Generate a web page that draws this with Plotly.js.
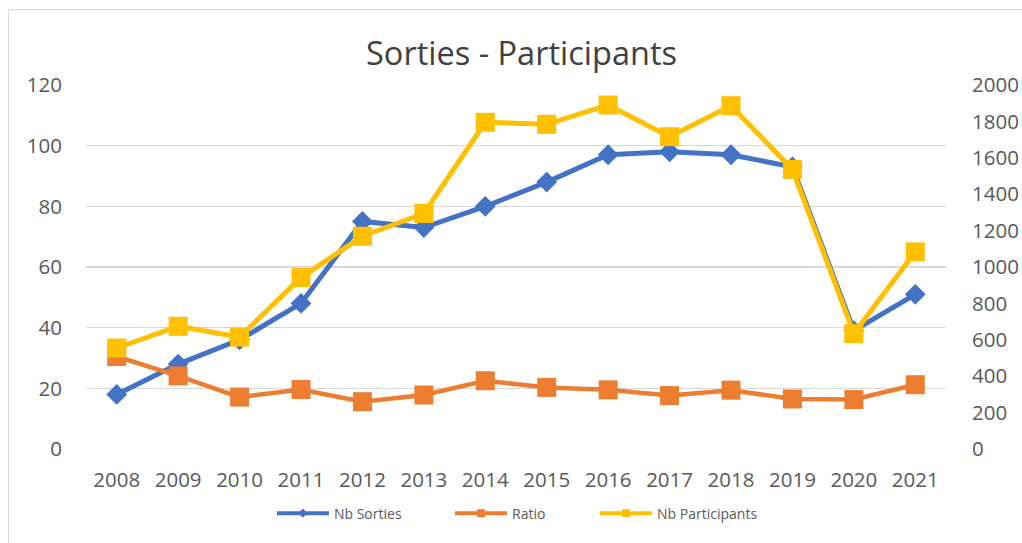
<!DOCTYPE html>
<html>
<head>
<meta charset="utf-8">
<script src="https://cdn.plot.ly/plotly-3.0.1.min.js"></script>
<style>
html,body{margin:0;padding:0;background:#fff;}
#wrap{position:relative;width:1022px;height:543px;overflow:hidden;}
#chart{position:absolute;left:0;top:0;width:1022px;height:543px;}
#frame{position:absolute;left:8px;top:9px;width:1040px;height:560px;border:1px solid #D9D9D9;pointer-events:none;z-index:5;}
</style>
</head>
<body>
<div id="wrap"><div id="chart"></div><div id="frame"></div></div>
<script>
const years = ['2008','2009','2010','2011','2012','2013','2014','2015','2016','2017','2018','2019','2020','2021'];
const nbSorties = [18, 28, 36, 48, 75, 73, 80, 88, 97, 98, 97, 93, 39, 51];
const ratio = [30.5, 24.1, 17.1, 19.6, 15.6, 17.8, 22.5, 20.3, 19.5, 17.6, 19.4, 16.5, 16.3, 21.2];
const nbParticipants = [555, 674, 615, 942, 1169, 1294, 1795, 1784, 1890, 1716, 1886, 1536, 634, 1083];
const leftTicks = [0, 20, 40, 60, 80, 100, 120];
const rightTicks = [0, 200, 400, 600, 800, 1000, 1200, 1400, 1600, 1800, 2000];

const FONT = 'Open Sans, sans-serif';
const TICK = {family: FONT, size: 20.5, color: '#595959'};
const BLUE = '#4472C4', ORANGE = '#ED7D31', YELLOW = '#FFC000';

const traces = [
  {x: years, y: nbSorties, name: 'Nb Sorties', type: 'scatter', mode: 'lines+markers', showlegend: false,
   line: {color: BLUE, width: 5}, marker: {symbol: 'diamond', size: 16, color: BLUE}},
  {x: years, y: ratio, name: 'Ratio', type: 'scatter', mode: 'lines+markers', showlegend: false,
   line: {color: ORANGE, width: 4.5}, marker: {symbol: 'square', size: 19, color: ORANGE}},
  {x: years, y: nbParticipants, name: 'Nb Participants', type: 'scatter', mode: 'lines+markers', yaxis: 'y2', showlegend: false,
   line: {color: YELLOW, width: 5}, marker: {symbol: 'square', size: 19, color: YELLOW}},
  // legend entries (no data points)
  {x: [null], y: [null], name: 'Nb Sorties', type: 'scatter', mode: 'lines+markers', legend: 'legend',
   line: {color: BLUE, width: 4}, marker: {symbol: 'diamond', size: 7, color: BLUE}},
  {x: [null], y: [null], name: 'Ratio', type: 'scatter', mode: 'lines+markers', legend: 'legend2',
   line: {color: ORANGE, width: 4}, marker: {symbol: 'square', size: 8, color: ORANGE}},
  {x: [null], y: [null], name: 'Nb Participants', type: 'scatter', mode: 'lines+markers', legend: 'legend3',
   line: {color: YELLOW, width: 4}, marker: {symbol: 'square', size: 8, color: YELLOW}}
];
const LEG = {orientation: 'h', xanchor: 'left', y: -0.1774, yanchor: 'middle', bgcolor: 'rgba(0,0,0,0)',
             font: {family: FONT, size: 14, color: '#595959'}, itemwidth: 52};
const layout = {
  width: 1022, height: 543,
  margin: {l: 86, r: 76, t: 85, b: 94},
  paper_bgcolor: 'rgba(0,0,0,0)', plot_bgcolor: 'rgba(0,0,0,0)',
  font: {family: FONT, color: '#595959'},
  title: {text: 'Sorties - Participants', font: {family: FONT, size: 32.5, color: '#404040'},
          x: 0.5103, xref: 'container', xanchor: 'center', y: 0.902, yref: 'container', yanchor: 'middle'},
  showlegend: true,
  legend: Object.assign({}, LEG, {x: 0.2162}),
  legend2: Object.assign({}, LEG, {x: 0.4233}),
  legend3: Object.assign({}, LEG, {x: 0.5919}),
  xaxis: {type: 'category', range: [-0.5, 13.5], showgrid: false, zeroline: false, showline: false,
          ticks: 'outside', ticklen: 12, tickcolor: 'rgba(0,0,0,0)', tickfont: TICK, fixedrange: true},
  yaxis: {range: [0, 120], tickvals: leftTicks, ticktext: leftTicks.map(String),
          showgrid: true, gridcolor: '#D9D9D9', gridwidth: 1.5, zeroline: false, showline: false,
          ticks: 'outside', ticklen: 19, tickcolor: 'rgba(0,0,0,0)', tickfont: TICK},
  yaxis2: {range: [0, 2000], overlaying: 'y', side: 'right', tickvals: rightTicks, ticktext: rightTicks.map(String),
           showgrid: false, zeroline: false, showline: false,
           ticks: 'outside', ticklen: 21, tickcolor: 'rgba(0,0,0,0)', tickfont: TICK}
};
Plotly.newPlot('chart', traces, layout, {displayModeBar: false, staticPlot: true});
</script>
</body>
</html>
